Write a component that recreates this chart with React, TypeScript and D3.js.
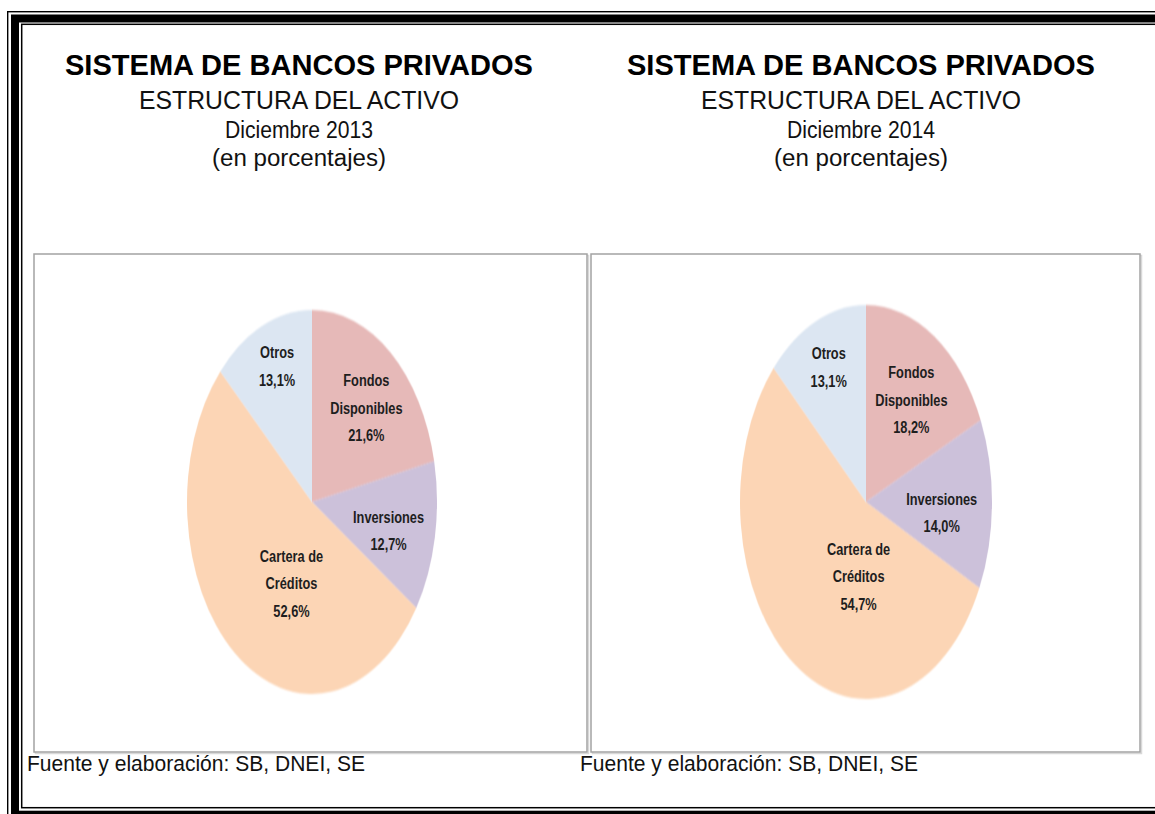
import React from 'react';
import * as d3 from 'd3';

// ---------- data ----------
const categories = ['Fondos Disponibles', 'Inversiones', 'Cartera de Créditos', 'Otros'];
const labelLines = [['Fondos', 'Disponibles'], ['Inversiones'], ['Cartera de', 'Créditos'], ['Otros']];
const values2013 = [21.6, 12.7, 52.6, 13.1];
const values2014 = [18.2, 14.0, 54.7, 13.1];
const periods = ['Diciembre 2013', 'Diciembre 2014'];
const mainTitle = 'SISTEMA DE BANCOS PRIVADOS';
const subTitle = 'ESTRUCTURA DEL ACTIVO';
const unitLabel = '(en porcentajes)';
const sourceNote = 'Fuente y elaboración: SB, DNEI, SE';
const sliceColors = ['#E6B9B8', '#CCC1DA', '#FCD5B5', '#DCE6F2'];

// ---------- layout ----------
const W = 1155;
const H = 814;
const panels = [
  {
    values: values2013,
    period: periods[0],
    box: { x0: 34, x1: 587, y0: 254, y1: 752 },
    titleCx: 299,
    footerX: 27,
    pie: { cx: 312, cy: 502, rx: 125, ry: 192 },
    nudges: [[1, 8], [-7, 5], [32, -21], [-1, -16]],
  },
  {
    values: values2014,
    period: periods[1],
    box: { x0: 591, x1: 1140, y0: 254, y1: 752 },
    titleCx: 861,
    footerX: 580,
    pie: { cx: 866, cy: 502, rx: 126, ry: 197 },
    nudges: [[-1, 11], [-10, 9], [41, -36], [-3, -12]],
  },
];

const locale = d3.formatLocale({ decimal: ',', thousands: '.', grouping: [3], currency: ['', ''] });
const fmtPct = (v: number) => locale.format('.1f')(v) + '%';

const FONT = '"Liberation Sans", Arial, sans-serif';

function PiePanel({ p }: { p: typeof panels[number] }) {
  const pieGen = d3.pie<number>().sort(null).value((d) => d);
  const arcs = pieGen(p.values);
  const { cx, cy, rx, ry } = p.pie;
  const arcGen = d3.arc<d3.PieArcDatum<number>>().innerRadius(0).outerRadius(rx);
  const labelArc = d3.arc<d3.PieArcDatum<number>>().innerRadius(rx * 0.68).outerRadius(rx * 0.68);
  const sy = ry / rx;
  const lineGap = 27.5;
  return (
    <g>
      {/* panel box with soft shadow */}
      <rect x={p.box.x0 + 1.5} y={p.box.y0 + 1.5} width={p.box.x1 - p.box.x0} height={p.box.y1 - p.box.y0}
        fill="none" stroke="#d8d8d8" strokeWidth={1.5} />
      <rect x={p.box.x0} y={p.box.y0} width={p.box.x1 - p.box.x0} height={p.box.y1 - p.box.y0}
        fill="#fff" stroke="#a3a3a3" strokeWidth={1.5} />
      <g transform={`translate(${cx},${cy}) scale(1,${sy})`} filter="url(#soft)">
        {arcs.map((a, i) => (
          <path key={categories[i]} d={arcGen(a) || ''} fill={sliceColors[i]} />
        ))}
      </g>
      {arcs.map((a, i) => {
        const [lx, ly0] = labelArc.centroid(a);
        const x = cx + lx + p.nudges[i][0];
        const y = cy + ly0 * sy + p.nudges[i][1];
        const lines = [...labelLines[i], fmtPct(p.values[i])];
        const n = lines.length;
        return (
          <g key={'lbl' + i}>
            {lines.map((t, j) => (
              <text key={j}
                transform={`translate(${x},${y + (j - (n - 1) / 2) * lineGap + 5.6}) scale(0.82,1)`}
                textAnchor="middle" fontFamily={FONT} fontWeight="bold" fontSize={15.6} fill="#1e1e1e">
                {t}
              </text>
            ))}
          </g>
        );
      })}
      {/* titles */}
      <text x={p.titleCx} y={75} textAnchor="middle" fontFamily={FONT} fontWeight="bold" fontSize={29}
        fill="#000" textLength={468} lengthAdjust="spacingAndGlyphs">{mainTitle}</text>
      <text x={p.titleCx} y={109} textAnchor="middle" fontFamily={FONT} fontSize={26}
        fill="#111" textLength={320} lengthAdjust="spacingAndGlyphs">{subTitle}</text>
      <text x={p.titleCx} y={138} textAnchor="middle" fontFamily={FONT} fontSize={23}
        fill="#111" textLength={148} lengthAdjust="spacingAndGlyphs">{p.period}</text>
      <text x={p.titleCx} y={166} textAnchor="middle" fontFamily={FONT} fontSize={23}
        fill="#111" textLength={174} lengthAdjust="spacingAndGlyphs">{unitLabel}</text>
      {/* footer */}
      <text x={p.footerX} y={771} fontFamily={FONT} fontSize={22} fill="#111"
        textLength={338} lengthAdjust="spacingAndGlyphs">{sourceNote}</text>
    </g>
  );
}

export default function App() {
  return (
    <svg width={W} height={H} viewBox={`0 0 ${W} ${H}`}
      style={{ position: 'absolute', left: 0, top: 0, display: 'block', background: '#fff' }}>
      <defs>
        <filter id="soft" x="-5%" y="-5%" width="110%" height="110%">
          <feGaussianBlur stdDeviation="0.7" />
        </filter>
      </defs>
      <rect x={0} y={0} width={W} height={H} fill="#fff" />
      {/* decorative triple frame */}
      <rect x={7.7} y={11.7} width={1200} height={830} fill="none" stroke="#000" strokeWidth={1.4} />
      <rect x={15} y={18.5} width={1200} height={796.2} fill="none" stroke="#000" strokeWidth={8} />
      <rect x={21.7} y={24.3} width={1200} height={783.4} fill="none" stroke="#000" strokeWidth={1.5} />
      {panels.map((p, i) => (
        <PiePanel key={i} p={p} />
      ))}
    </svg>
  );
}
